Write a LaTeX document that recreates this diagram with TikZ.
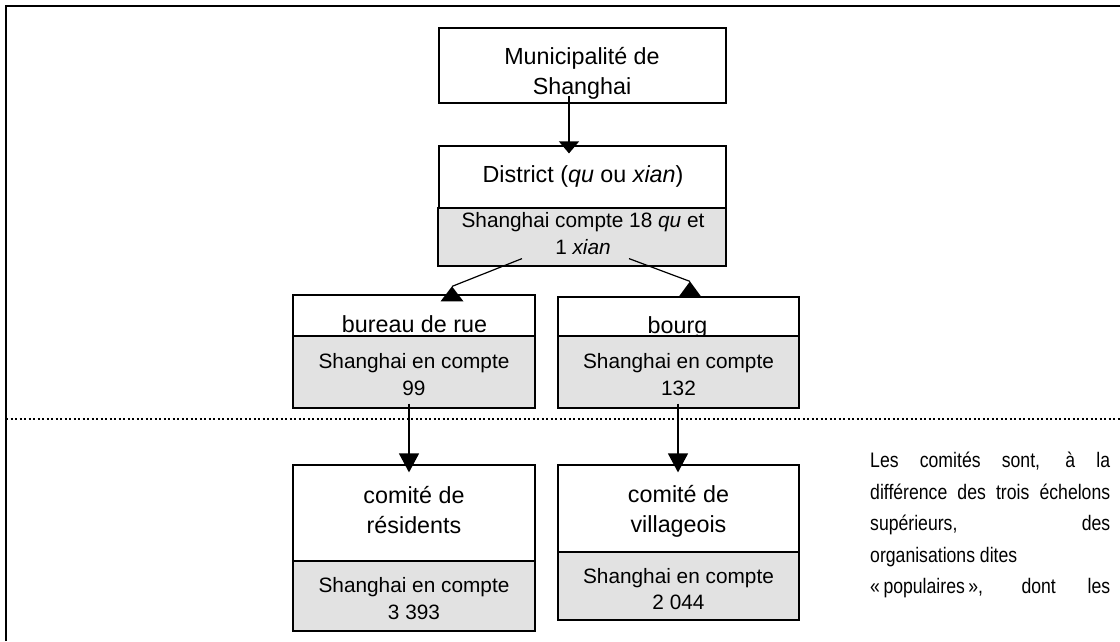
\documentclass[tikz,border=0pt]{standalone}
\usepackage{fontspec}
\setmainfont{Liberation Sans}
\newfontfamily\notefont[FakeStretch=0.84]{Liberation Sans}
\usetikzlibrary{arrows.meta}
\definecolor{boxgray}{RGB}{226,226,226}
\tikzset{
  frame/.style={line width=2pt},
  divider/.style={line width=2pt, dash pattern=on 2.2pt off 2.3pt},
  wbox/.style={draw, line width=1.2pt, fill=white, inner sep=0pt},
  gbox/.style={draw, line width=1.2pt, fill=boxgray, inner sep=0pt},
  maintxt/.style={inner sep=0pt, align=center, font=\fontsize{23.3}{29.5}\selectfont, anchor=base},
  graytxt/.style={inner sep=0pt, align=center, font=\fontsize{20.8}{27}\selectfont, anchor=base},
  notetxt/.style={inner sep=0pt, anchor=base west, font=\notefont\fontsize{21}{30}\selectfont},
  conn/.style={line width=1.2pt},
  arrshort/.style={conn, -{Triangle[width=20pt,length=12pt]}},
  arrlong/.style={conn, -{Triangle[width=20pt,length=19pt]}},
  head/.style={fill=black},
}
\begin{document}
\begin{tikzpicture}[x=1pt,y=-1pt]
\useasboundingbox (0,0) rectangle (1120,641);
% frame and divider
\draw[frame] (6,641) -- (6,6) -- (1120,6);
\draw[divider] (6,419) -- (1120,419);

% level 0 (anchor base = baseline of the last line)
\node[wbox, minimum width=287pt, minimum height=75pt] (mun) at (582.5,65.5) {};
\begin{scope}
  \clip (439.6,28.6) rectangle (725.4,102.4);
  \node[maintxt, font=\fontsize{23.3}{30}\selectfont] (muntxt) at (582,94) {Municipalité de\\Shanghai};
\end{scope}

% level 1
\node[wbox, minimum width=287pt, minimum height=62pt] (distw) at (582.5,177) {};
\node[gbox, minimum width=288pt, minimum height=58pt] (distg) at (582,237) {};
\node[maintxt] (disttxt) at (583,182) {District (\textit{qu} ou \textit{xian})};
\node[graytxt] (distnum) at (583,254) {Shanghai compte 18 \textit{qu} et\\1 \textit{xian}};

% level 2
\node[wbox, minimum width=242pt, minimum height=41pt] (burw) at (414,315.5) {};
\node[gbox, minimum width=242pt, minimum height=72pt] (burg) at (414,372) {};
\node[maintxt] (burtxt) at (414.5,332) {bureau de rue};
\node[graytxt] (burnum) at (414,395) {Shanghai en compte\\99};

\node[wbox, minimum width=241pt, minimum height=39pt] (bourw) at (678.5,316.5) {};
\begin{scope}
  \clip (558.6,297.6) rectangle (798.4,335.4);
  \node[maintxt] (bourtxt) at (677.5,333) {bourg};
\end{scope}
\node[gbox, minimum width=241pt, minimum height=72pt] (bourg) at (678.5,372) {};
\node[graytxt] (bournum) at (678.5,395) {Shanghai en compte\\132};

% level 3
\node[wbox, minimum width=242pt, minimum height=96pt] (resw) at (414,513) {};
\node[gbox, minimum width=242pt, minimum height=70pt] (resg) at (414,596) {};
\node[maintxt] (restxt) at (414,533) {comité de\\résidents};
\node[graytxt] (resnum) at (414,619) {Shanghai en compte\\3 393};

\node[wbox, minimum width=241pt, minimum height=87pt] (vilw) at (678.5,508.5) {};
\node[gbox, minimum width=241pt, minimum height=68pt] (vilg) at (678.5,586) {};
\node[maintxt] (viltxt) at (678.5,532) {comité de\\villageois};
\node[graytxt, font=\fontsize{20.8}{26}\selectfont] (vilnum) at (678.5,609) {Shanghai en compte\\2 044};

% connectors
\draw[arrshort] ([xshift=-13.5pt,yshift=8pt]mun.south) -- ([xshift=-13.5pt,yshift=-8pt]distw.north);

\draw[conn] ([xshift=-60pt,yshift=8pt]distg.south) -- ([xshift=38pt,yshift=8pt]burw.north);
\fill[head] ([xshift=38pt,yshift=8pt]burw.north) -- ++(-11.5,15) -- ++(23,0) -- cycle;

\draw[conn] ([xshift=47pt,yshift=8pt]distg.south) -- ([xshift=11.5pt,yshift=15pt]bourw.north);
\fill[head] ([xshift=11.5pt,yshift=15pt]bourw.north) -- ++(-11,15) -- ++(22,0) -- cycle;

\draw[arrlong] ([xshift=-5pt,yshift=5pt]burg.south) -- ([xshift=-5pt,yshift=-8pt]resw.north);
\draw[arrlong] ([xshift=-0.5pt,yshift=5pt]bourg.south) -- ([xshift=-0.5pt,yshift=-8pt]vilw.north);

% side note
\node[notetxt] (note1) at (870,467) {\makebox[240pt][s]{Les comités sont, à la}};
\node[notetxt] (note2) at (870,499) {\makebox[240pt][s]{différence des trois échelons}};
\node[notetxt] (note3) at (870,530.5) {\makebox[240pt][s]{supérieurs, des}};
\node[notetxt] (note4) at (870,562) {organisations dites};
\node[notetxt] (note5) at (870,593.5) {\makebox[240pt][s]{«\kern3.5pt populaires\kern3.5pt», dont les}};
\end{tikzpicture}
\end{document}
